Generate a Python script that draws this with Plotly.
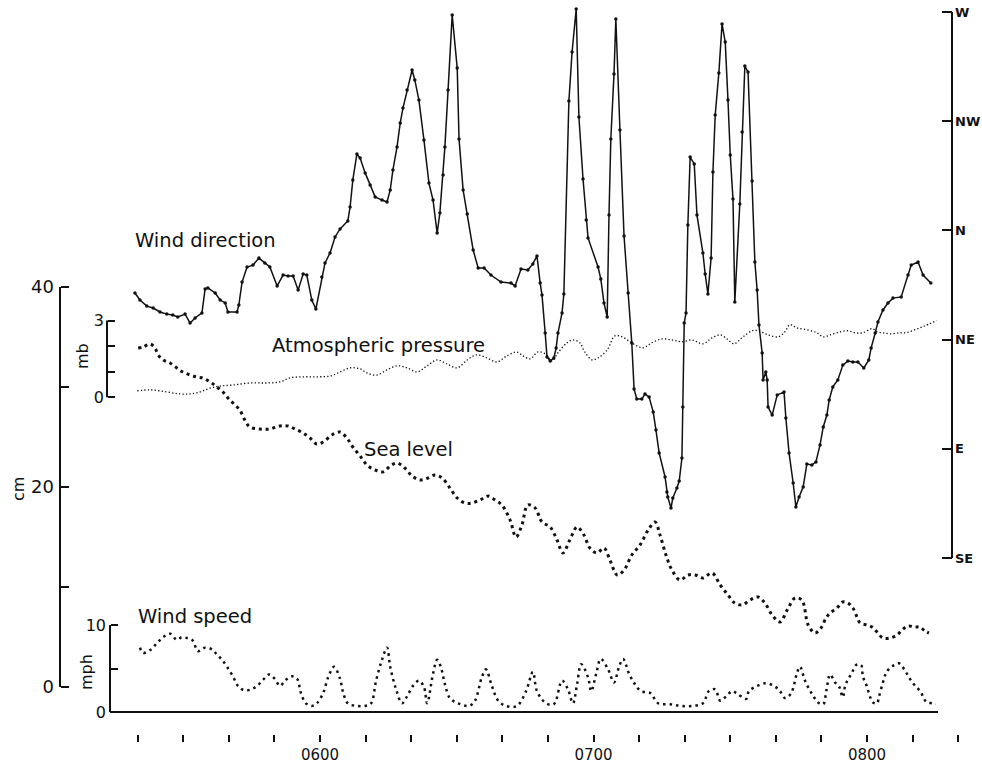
import plotly.graph_objects as go

W, H = 982, 764

# ---------------- data (time = minutes after 05:00) ----------------
dir_time = [19.4, 20.5, 22.0, 23.4, 24.9, 26.4, 27.7, 28.8, 30.4, 31.5,
            32.6, 34.1, 34.8, 35.4, 37.0, 38.1, 39.2, 39.8, 41.8, 42.2,
            42.9, 44.0, 45.3, 46.6, 47.9, 49.0, 50.6, 51.9, 53.0, 54.1,
            55.2, 56.3, 57.1, 58.2, 59.1, 60.4, 61.1, 62.2, 63.3, 64.4,
            66.1, 66.6, 67.2, 68.1, 68.8, 69.9, 71.0, 72.1, 73.6, 74.7,
            75.4, 76.0, 76.9, 77.6, 78.2, 79.1, 80.2, 80.8, 81.7, 82.8,
            83.9, 84.8, 85.7, 86.3, 87.0, 87.4, 88.1, 89.0, 90.1, 90.5,
            91.4, 92.3, 93.6, 94.7, 96.0, 97.5, 99.7, 101.9, 102.8, 104.1,
            105.6, 106.7, 107.6, 108.3, 108.7, 109.4, 109.8, 110.5, 111.3, 111.8,
            112.2, 113.1, 113.5, 114.6, 115.3, 116.2, 116.8, 117.7, 118.4, 118.8,
            121.0, 121.6, 122.3, 123.0, 123.4, 123.8, 124.5, 124.9, 125.8, 126.7,
            127.6, 128.4, 128.9, 129.5, 130.6, 131.3, 132.2, 133.1, 133.7, 134.4,
            135.7, 136.1, 136.3, 137.0, 137.4, 138.3, 138.8, 139.4, 139.6, 139.9,
            140.3, 140.7, 141.2, 142.1, 142.7, 144.0, 144.5, 145.1, 145.8, 146.2,
            146.7, 147.5, 148.2, 148.9, 149.5, 150.0, 150.6, 151.0, 152.1, 152.6,
            153.2, 153.9, 154.8, 155.4, 155.9, 156.3, 157.0, 157.2, 157.8, 158.1,
            158.3, 159.2, 160.3, 161.8, 162.2, 162.9, 163.8, 164.4, 165.1, 166.0,
            166.8, 167.9, 168.8, 169.7, 170.4, 171.2, 171.7, 172.5, 173.6, 174.7,
            175.8, 176.9, 178.0, 179.3, 180.4, 180.9, 181.8, 182.4, 183.5, 184.6,
            185.7, 187.5, 189.0, 189.7, 191.2, 192.3, 194.0]
# degrees east of north (W = -90 ... SE = 135)
dir_deg = [25.8, 28.7, 31.2, 32.0, 33.6, 34.5, 34.9, 35.7, 34.5, 38.2,
           36.1, 34.0, 24.1, 23.7, 25.8, 28.7, 29.9, 33.6, 33.6, 30.7,
           21.3, 15.1, 14.3, 11.4, 13.4, 15.1, 22.9, 18.4, 18.8, 18.8,
           24.6, 18.0, 18.4, 28.7, 32.4, 19.2, 13.4, 9.3, 2.7, -0.6,
           -3.9, -9.6, -20.8, -31.5, -29.8, -23.7, -18.7, -13.8, -12.5, -11.7,
           -16.6, -24.9, -34.4, -44.3, -50.4, -57.9, -66.1, -62.0, -53.7, -37.3,
           -19.5, -12.5, 1.1, -7.2, -22.8, -34.4, -57.9, -88.8, -66.9, -37.7,
           -16.6, -6.8, 8.1, 15.5, 15.5, 18.4, 21.3, 21.7, 22.9, 15.9,
           16.3, 13.8, 10.5, 21.7, 26.6, 42.3, 52.2, 53.8, 52.6, 48.5,
           42.3, 34.0, 26.2, -53.3, -73.5, -91.2, -46.7, -21.2, -4.3, 3.1,
           15.1, 20.0, 29.9, 35.7, -6.3, -37.7, -64.5, -87.1, -41.4, 2.3,
           25.8, 46.4, 65.4, 69.5, 69.5, 67.4, 68.7, 74.8, 82.3, 91.7,
           101.6, 107.8, 109.9, 114.4, 110.3, 106.2, 103.3, 93.8, 72.8, 38.2,
           34.0, -2.2, -30.2, -27.4, -6.3, 9.3, 18.0, 26.2, 11.4, -24.1,
           -47.6, -64.9, -85.1, -77.6, -53.7, -31.1, -12.9, 29.5, -10.9, -40.5,
           -67.7, -65.3, -20.4, 13.0, 24.6, 39.0, 50.5, 61.6, 58.4, 61.6,
           72.8, 76.1, 67.8, 66.6, 77.3, 91.7, 104.1, 114.0, 109.9, 105.7,
           96.3, 96.7, 95.4, 88.4, 81.0, 76.1, 69.9, 64.5, 61.6, 55.5,
           53.8, 54.2, 54.2, 56.7, 53.4, 48.5, 42.3, 37.7, 32.8, 29.9,
           27.9, 27.4, 18.4, 14.3, 13.0, 18.4, 21.7]

pr_time = [19.9, 22.7, 26.4, 29.3, 31.5, 33.7, 35.9, 38.1, 40.9, 44.6,
           48.4, 51.2, 53.4, 56.3, 59.3, 62.2, 64.4, 66.6, 68.8, 70.3,
           72.5, 74.7, 76.9, 79.1, 81.3, 83.5, 85.7, 87.9, 90.1, 92.3,
           94.4, 96.6, 98.8, 101.0, 103.2, 104.5, 106.1, 107.8, 109.4, 110.9,
           112.2, 114.2, 115.5, 117.0, 118.1, 119.7, 121.0, 123.0, 124.7, 126.3,
           128.0, 129.5, 130.9, 132.8, 135.0, 137.2, 139.4, 141.6, 144.0, 146.0,
           147.8, 149.3, 150.8, 152.8, 154.8, 156.1, 158.3, 160.5, 162.0, 163.1,
           164.6, 166.8, 169.0, 170.4, 171.9, 174.1, 175.8, 177.4, 179.1, 181.1,
           182.2, 183.5, 185.1, 187.2, 188.5, 190.5, 192.3, 195.3]
pr_mb = [0.25, 0.29, 0.21, 0.13, 0.13, 0.21, 0.36, 0.44, 0.48, 0.56,
         0.56, 0.60, 0.76, 0.80, 0.80, 0.83, 0.99, 1.15, 1.11, 0.95,
         0.87, 1.07, 1.23, 1.15, 0.99, 1.23, 1.46, 1.30, 1.15, 1.46,
         1.66, 1.54, 1.38, 1.62, 1.77, 1.62, 1.50, 1.77, 1.70, 1.42,
         1.74, 2.13, 2.24, 2.13, 1.77, 1.46, 1.54, 1.85, 2.40, 2.36,
         2.17, 2.01, 1.93, 2.13, 2.28, 2.24, 2.17, 2.24, 2.09, 2.32,
         2.44, 2.28, 2.09, 2.36, 2.60, 2.60, 2.44, 2.36, 2.56, 2.84,
         2.71, 2.64, 2.52, 2.36, 2.44, 2.56, 2.60, 2.52, 2.52, 2.68,
         2.56, 2.52, 2.48, 2.52, 2.52, 2.64, 2.76, 3.00]

sl_time = [20.1, 21.2, 22.7, 23.8, 24.5, 25.6, 27.1, 28.6, 29.9, 31.5,
           33.0, 34.3, 35.9, 37.4, 38.7, 39.8, 40.9, 42.4, 43.5, 44.6,
           46.8, 49.0, 51.2, 53.0, 54.5, 56.3, 57.8, 59.3, 60.7, 62.6,
           64.4, 65.9, 67.2, 68.8, 70.3, 72.1, 73.8, 75.4, 76.9, 78.6,
           80.2, 81.9, 83.7, 85.2, 86.8, 88.5, 90.1, 91.8, 93.3, 95.1,
           96.9, 98.4, 99.9, 101.7, 103.0, 104.3, 105.6, 107.2, 108.7, 110.5,
           112.0, 113.3, 114.8, 116.4, 117.9, 119.2, 120.8, 122.3, 123.6, 125.2,
           126.7, 128.4, 130.2, 132.0, 133.5, 134.6, 135.9, 137.2, 139.0, 140.7,
           142.3, 144.0, 146.0, 147.8, 149.5, 151.0, 152.6, 154.3, 156.1, 157.6,
           159.2, 160.9, 162.5, 164.2, 165.7, 167.1, 168.6, 169.9, 171.0, 171.9,
           173.4, 174.7, 175.8, 176.9, 177.8, 178.5, 180.0, 181.1, 182.2, 183.5,
           185.1, 186.6, 187.7, 189.0, 190.5, 191.6, 192.7, 193.6]
sl_cm = [33.9, 34.0, 34.3, 33.9, 33.2, 32.7, 32.4, 31.9, 31.5, 31.2,
         31.0, 30.9, 30.5, 30.0, 29.5, 28.9, 28.4, 27.7, 26.7, 26.0,
         25.8, 25.8, 26.1, 26.1, 25.8, 25.4, 24.9, 24.3, 24.5, 25.2,
         25.5, 24.9, 24.0, 23.1, 22.2, 21.7, 21.5, 22.1, 22.4, 21.9,
         21.1, 20.7, 20.9, 21.2, 20.9, 19.9, 18.9, 18.4, 18.4, 18.7,
         19.1, 18.7, 18.2, 16.7, 15.0, 16.2, 18.2, 17.9, 16.5, 16.0,
         14.7, 13.4, 14.7, 16.0, 15.2, 13.9, 13.4, 13.9, 12.7, 11.2,
         11.7, 13.2, 14.2, 15.7, 16.5, 15.2, 13.2, 11.7, 10.7, 11.2,
         11.2, 10.9, 11.4, 10.2, 9.2, 8.4, 8.2, 8.7, 9.0, 8.4,
         7.2, 6.5, 7.7, 8.9, 8.7, 6.2, 5.4, 5.9, 6.9, 7.4,
         7.9, 8.5, 8.4, 7.9, 7.0, 6.4, 6.2, 6.0, 5.5, 4.9,
         4.9, 5.2, 5.7, 6.1, 6.0, 6.0, 5.6, 5.4]

ws_time = [20.5, 21.2, 22.7, 24.2, 25.6, 27.1, 28.6, 29.7, 30.8, 32.1,
           33.2, 34.8, 36.3, 37.4, 38.5, 39.6, 40.9, 42.0, 43.3, 44.9,
           46.2, 47.7, 48.8, 50.1, 51.2, 52.5, 53.9, 55.0, 55.8, 56.9,
           58.2, 59.3, 60.7, 61.8, 63.1, 64.4, 65.0, 66.1, 68.1, 69.9,
           71.2, 72.3, 73.6, 74.7, 75.4, 76.7, 78.0, 79.1, 80.4, 81.7,
           82.8, 83.5, 84.8, 85.7, 86.5, 87.4, 88.5, 90.3, 92.7, 94.0,
           95.5, 96.4, 97.7, 99.1, 100.8, 103.2, 105.2, 106.7, 107.6, 109.6,
           111.3, 113.1, 114.4, 115.5, 116.4, 117.3, 118.8, 119.5, 120.6, 121.6,
           123.2, 124.5, 125.6, 126.5, 127.8, 129.1, 130.4, 132.4, 134.2, 136.8,
           139.2, 141.6, 144.0, 145.3, 146.7, 147.8, 149.1, 150.4, 151.5, 153.5,
           154.1, 155.9, 157.8, 159.6, 160.9, 162.0, 163.3, 164.6, 165.3, 166.4,
           167.9, 169.5, 170.4, 171.1, 171.9, 173.0, 173.9, 174.7, 175.2, 175.8,
           176.7, 177.6, 178.7, 179.1, 180.0, 180.7, 181.3, 182.2, 182.6, 183.5,
           184.2, 185.3, 186.1, 187.0, 188.3, 189.2, 190.1, 191.0, 191.9, 192.5,
           193.2, 194.3, 195.1]
ws_mph = [7.4, 6.8, 7.1, 7.9, 8.6, 9.0, 8.3, 8.6, 8.5, 8.2,
          7.0, 7.4, 7.2, 6.6, 6.0, 5.2, 4.1, 3.0, 2.5, 2.6,
          3.0, 3.8, 4.3, 3.8, 3.0, 3.7, 4.1, 3.8, 2.2, 1.0,
          0.7, 1.0, 2.2, 4.0, 5.2, 3.8, 2.4, 1.0, 0.7, 0.7,
          1.0, 3.6, 6.0, 7.4, 5.2, 2.6, 1.0, 1.8, 3.0, 3.6,
          2.9, 1.0, 4.4, 6.0, 5.2, 3.2, 1.6, 1.0, 0.7, 1.3,
          4.0, 4.9, 3.0, 1.3, 0.7, 0.7, 2.4, 4.6, 2.4, 1.0,
          0.9, 3.6, 2.6, 1.0, 3.2, 5.5, 4.0, 2.4, 4.4, 6.1,
          4.9, 3.4, 5.2, 6.1, 4.4, 3.2, 2.4, 2.2, 1.0, 0.9,
          0.7, 0.7, 1.0, 2.4, 2.6, 1.3, 1.8, 2.4, 2.1, 1.5,
          2.4, 3.0, 3.3, 3.0, 2.4, 1.6, 2.1, 4.4, 5.2, 3.6,
          2.1, 1.0, 0.9, 2.5, 4.3, 3.4, 2.9, 1.7, 3.0, 3.7,
          4.5, 5.4, 5.4, 4.1, 2.9, 1.7, 1.1, 1.0, 1.7, 3.4,
          4.5, 5.2, 5.4, 5.6, 4.8, 4.0, 3.3, 2.8, 2.2, 1.5,
          1.1, 1.0, 0.9]

time_ticks = list(range(20, 201, 10))
time_labels = {60: "0600", 120: "0700", 180: "0800"}
dir_ticks = [-90, -45, 0, 45, 90, 135]
dir_labels = ["W", "NW", "N", "NE", "E", "SE"]

# ---------------- helpers ----------------
def px(x):
    return x / W


def py(y):
    return 1 - y / H


def vrange(v1, p1, v2, p2, size):
    """axis range so that value v1 sits at pixel p1 and v2 at pixel p2"""
    s = (p2 - p1) / (v2 - v1)
    return v1 + (0 - p1) / s, v1 + (size - p1) / s


FONT = "DejaVu Sans"
BLACK = "#111111"

xr = vrange(60, 320, 180, 867, W)
dir_top, dir_bot = vrange(-90, 12, 135, 558, H)
cm_top, cm_bot = vrange(40, 287, 0, 687, H)
mb_top, mb_bot = vrange(3, 320.5, 0, 397.3, H)
mph_top, mph_bot = vrange(10, 625, 0, 712, H)

fig = go.Figure()

fig.add_trace(go.Scatter(
    x=dir_time, y=dir_deg, xaxis="x", yaxis="y", mode="lines+markers",
    line=dict(color=BLACK, width=1.5),
    marker=dict(color=BLACK, size=3.5), showlegend=False))

fig.add_trace(go.Scatter(
    x=pr_time, y=pr_mb, xaxis="x", yaxis="y3", mode="lines",
    line=dict(color=BLACK, width=1.3, dash="1.3px,2.2px", shape="spline"),
    showlegend=False))

fig.add_trace(go.Scatter(
    x=sl_time, y=sl_cm, xaxis="x", yaxis="y2", mode="lines",
    line=dict(color=BLACK, width=3, dash="3px,3.8px", shape="spline"),
    showlegend=False))

fig.add_trace(go.Scatter(
    x=ws_time, y=ws_mph, xaxis="x", yaxis="y4", mode="lines",
    line=dict(color=BLACK, width=2.5, dash="2.5px,4px", shape="spline"),
    showlegend=False))

common_y = dict(showgrid=False, zeroline=False, showline=False,
                ticks="inside", tickcolor=BLACK, tickwidth=2,
                tickfont=dict(family=FONT, size=18, color=BLACK),
                automargin=False, anchor="free", domain=[0, 1],
                fixedrange=True)

fig.update_layout(
    width=W, height=H, template="none",
    margin=dict(l=0, r=0, t=0, b=0, pad=0),
    paper_bgcolor="white", plot_bgcolor="white",
    showlegend=False,
    xaxis=dict(range=list(xr), domain=[0, 1], anchor="free",
               position=py(734), showgrid=False, zeroline=False,
               showline=False, ticks="outside", ticklen=7, tickwidth=2,
               tickcolor=BLACK, tickmode="array", tickvals=time_ticks,
               ticktext=[time_labels.get(t, "") for t in time_ticks],
               tickfont=dict(family=FONT, size=15, color=BLACK),
               ticklabelstandoff=0,
               automargin=False, fixedrange=True),
    yaxis=dict(common_y, range=[dir_bot, dir_top], side="right",
               position=px(952), ticklen=10, tickmode="array",
               tickvals=dir_ticks,
               ticktext=["<b>%s</b>" % t for t in dir_labels],
               tickfont=dict(family=FONT, size=13, color=BLACK),
               ticklabelstandoff=2),
    yaxis2=dict(common_y, range=[cm_bot, cm_top], side="left",
                position=px(60), overlaying="y", ticklen=8,
                tickmode="array", tickvals=[0, 10, 20, 30, 40],
                ticktext=["0", "", "20", "", "40"], ticklabelstandoff=6),
    yaxis3=dict(common_y, range=[mb_bot, mb_top], side="left",
                position=px(107), overlaying="y", ticklen=7,
                tickmode="array", tickvals=[0, 1, 2, 3],
                ticktext=["0", "", "", "3"],
                tickfont=dict(family=FONT, size=16, color=BLACK),
                ticklabelstandoff=3),
    yaxis4=dict(common_y, range=[mph_bot, mph_top], side="left",
                position=px(110), overlaying="y", ticklen=7,
                tickmode="array", tickvals=[0, 5, 10],
                ticktext=["0", "", "10"],
                tickfont=dict(family=FONT, size=16, color=BLACK),
                ticklabelstandoff=4),
)

# axis spines
spine = dict(color=BLACK, width=2)
fig.add_shape(type="line", xref="paper", yref="y", x0=px(952), x1=px(952),
              y0=-90, y1=135, line=spine)
fig.add_shape(type="line", xref="paper", yref="y2", x0=px(60), x1=px(60),
              y0=0, y1=40, line=spine)
fig.add_shape(type="line", xref="paper", yref="y3", x0=px(107), x1=px(107),
              y0=0, y1=3, line=spine)
fig.add_shape(type="line", xref="paper", yref="y4", x0=px(110), x1=px(110),
              y0=0, y1=10, line=spine)
fig.add_shape(type="line", xref="paper", yref="y4", x0=px(110), x1=px(938),
              y0=0, y1=0, line=spine)

labels = [
    ("Wind direction", 133, 240),
    ("Atmospheric pressure", 270, 345),
    ("Sea level", 362, 449),
    ("Wind speed", 136, 616),
]
for txt, x, y in labels:
    fig.add_annotation(text=txt, xref="paper", yref="paper", x=px(x), y=py(y),
                       xanchor="left", yanchor="middle", showarrow=False,
                       font=dict(family=FONT, size=19.5, color=BLACK))

units = [("cm", 18, 489), ("mb", 82, 356), ("mph", 86, 672)]
for txt, x, y in units:
    fig.add_annotation(text=txt, xref="paper", yref="paper", x=px(x), y=py(y),
                       xanchor="center", yanchor="middle", showarrow=False,
                       textangle=-90,
                       font=dict(family=FONT, size=16, color=BLACK))

fig.write_html(
    "out.html",
    config={"displayModeBar": False, "staticPlot": True},
    post_script="document.body.style.margin='0';"
                "document.body.style.overflow='hidden';",
)
